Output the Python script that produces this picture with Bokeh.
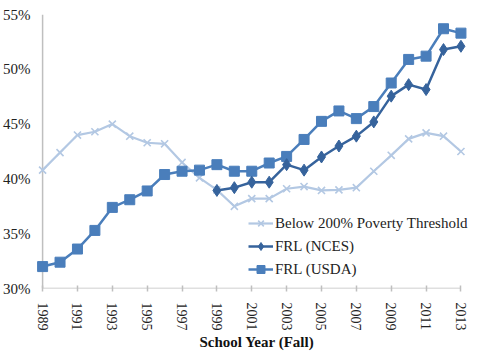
import math
from bokeh.plotting import figure
from bokeh.models import FixedTicker, Span, Legend, LegendItem, Range1d
from bokeh.embed import file_html
from bokeh.resources import INLINE

years = list(range(1989, 2014))
poverty = [40.8, 42.4, 44.0, 44.3, 45.0, 43.9, 43.3, 43.2, 41.5, 40.1, 39.0, 37.5,
           38.2, 38.2, 39.1, 39.3, 38.95, 39.0, 39.2, 40.7, 42.15, 43.65, 44.2, 43.9, 42.5]
nces_years = list(range(1999, 2014))
nces = [38.95, 39.2, 39.7, 39.7, 41.3, 40.8, 42.0, 43.0, 43.9, 45.2, 47.55, 48.6, 48.15, 51.8, 52.1]
usda = [32.0, 32.4, 33.6, 35.3, 37.4, 38.1, 38.9, 40.4, 40.7, 40.8, 41.3, 40.7, 40.7,
        41.45, 42.05, 43.6, 45.25, 46.2, 45.5, 46.6, 48.75, 50.9, 51.2, 53.7, 53.3]
x_ticks = list(range(1989, 2014, 2))
y_ticks = [30, 35, 40, 45, 50, 55]
y_tick_labels = ["30%", "35%", "40%", "45%", "50%", "55%"]

FONT = "Liberation Serif"
AXIS_COLOR = "#bfbfbf"
C_POV = "#b3c8e3"
C_NCES = "#36639c"
C_USDA = "#4a7ebb"

p = figure(frame_width=441, frame_height=274, output_backend="svg", toolbar_location=None,
           x_range=Range1d(1988.65, 2013.95), y_range=Range1d(30, 55),
           min_border_left=28, min_border_right=0, min_border_top=14, min_border_bottom=63)
p.outline_line_color = None
p.grid.visible = False
p.background_fill_color = "white"

r1l = p.line(years, poverty, line_color=C_POV, line_width=2.2)
r1m = p.scatter(years, poverty, marker="x", size=10, line_color=C_POV, line_width=1.6)
r3l = p.line(years, usda, line_color=C_USDA, line_width=2.5)
r3m = p.scatter(years, usda, marker="square", size=10, fill_color=C_USDA, line_color=C_USDA)
r2l = p.line(nces_years, nces, line_color=C_NCES, line_width=2.5)
r2m = p.scatter(nces_years, nces, marker="diamond", size=12, fill_color=C_NCES, line_color=C_NCES)

# axis lines drawn from the tick extremes (1989..2013 at 30%)
p.segment(x0=[x_ticks[0]], y0=[y_ticks[0]], x1=[x_ticks[-1]], y1=[y_ticks[0]],
          line_color=AXIS_COLOR, line_width=1.5, level="underlay")
p.add_layout(Span(location=x_ticks[0], dimension="height", line_color=AXIS_COLOR, line_width=1.5,
                  level="underlay"))

# y axis
ya = p.yaxis[0]
ya.ticker = FixedTicker(ticks=y_ticks)
ya.major_label_overrides = {t: l for t, l in zip(y_ticks, y_tick_labels)}
ya.axis_line_color = None
ya.major_tick_line_color = None
ya.minor_tick_line_color = None
ya.major_label_standoff = 0
ya.major_label_text_font = FONT
ya.major_label_text_font_size = "15px"
ya.major_label_text_color = "#222222"

# x axis
xa = p.xaxis[0]
xa.ticker = FixedTicker(ticks=x_ticks)
xa.major_label_overrides = {t: str(t) for t in x_ticks}
xa.axis_line_color = None
xa.major_tick_line_color = AXIS_COLOR
xa.major_tick_line_width = 1.5
xa.major_tick_in = 3
xa.major_tick_out = 3
xa.minor_tick_line_color = None
xa.major_label_orientation = -math.pi / 2
xa.major_label_standoff = 11
xa.major_label_text_font = FONT
xa.major_label_text_font_size = "14px"
xa.major_label_text_color = "#222222"
xa.axis_label = "School Year (Fall)"
xa.axis_label_text_font = FONT
xa.axis_label_text_font_style = "bold"
xa.axis_label_text_font_size = "15px"
xa.axis_label_text_color = "#111111"
xa.axis_label_standoff = 0

legend = Legend(items=[
    LegendItem(label="Below 200% Poverty Threshold", renderers=[r1l, r1m]),
    LegendItem(label="FRL (NCES)", renderers=[r2l, r2m]),
    LegendItem(label="FRL (USDA)", renderers=[r3l, r3m]),
], location=(212, 9))
legend.padding = 0
legend.margin = 0
legend.spacing = 3
legend.glyph_width = 25
legend.glyph_height = 20
legend.label_height = 20
legend.label_standoff = 2
legend.border_line_color = None
legend.background_fill_alpha = 0
legend.label_text_font = FONT
legend.label_text_font_size = "15px"
legend.label_text_color = "#222222"
p.add_layout(legend)

open("out.html", "w").write(file_html(p, INLINE))
